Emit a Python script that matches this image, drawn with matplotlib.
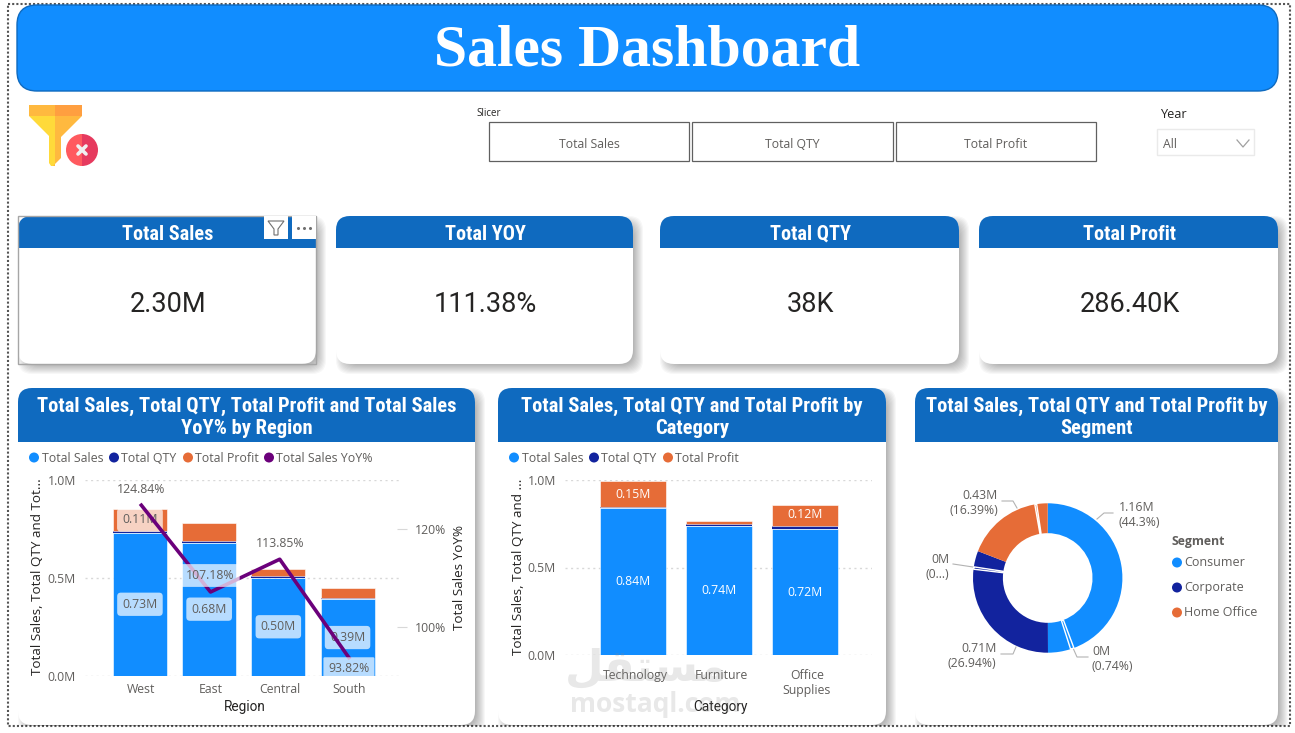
import matplotlib
matplotlib.use('Agg')
import matplotlib.pyplot as plt
from matplotlib.patches import FancyBboxPatch, Rectangle, Circle, Polygon, Wedge

W, H = 1295, 733

SALES_BLUE = '#118DFF'
QTY_NAVY = '#12239E'
PROFIT_ORANGE = '#E66C37'
YOY_PURPLE = '#6B007B'
HEADER_BLUE = '#0F6ABF'
TEXT_GREY = '#605E5C'
TEXT_DARK = '#252423'

BODY_FONT = 'Open Sans'
HEAD_FONT = ['Roboto Condensed', 'Roboto']
NUM_FONT = 'Roboto'

# KPI cards
kpi_titles = ['Total Sales', 'Total YOY', 'Total QTY', 'Total Profit']
kpi_values = ['2.30M', '111.38%', '38K', '286.40K']

# slicer
slicer_options = ['Total Sales', 'Total QTY', 'Total Profit']

# by region
regions = ['West', 'East', 'Central', 'South']
region_sales = [0.73, 0.68, 0.50, 0.39]
region_qty = [0.011, 0.009, 0.007, 0.006]
region_profit = [0.11, 0.09, 0.04, 0.05]
region_yoy = [124.84, 107.18, 113.85, 93.82]

# by category
categories = ['Technology', 'Furniture', 'Office\nSupplies']
category_sales = [0.84, 0.74, 0.72]
category_qty = [0.003, 0.007, 0.02]
category_profit = [0.15, 0.02, 0.12]

# by segment, percent of the ring going clockwise from the top
segment_shares = [44.3, 0.74, 4.9, 26.94, 0.5, 3.47, 16.39, 0.4, 2.36]
segment_colors = [SALES_BLUE, SALES_BLUE, SALES_BLUE,
                  QTY_NAVY, QTY_NAVY, QTY_NAVY,
                  PROFIT_ORANGE, PROFIT_ORANGE, PROFIT_ORANGE]
segment_names = ['Consumer', 'Corporate', 'Home Office']


fig = plt.figure(figsize=(W / 100, H / 100), dpi=100)
fig.patch.set_facecolor('white')

# page layer in pixel units, y going down
page = fig.add_axes([0, 0, 1, 1])
page.set_xlim(0, W)
page.set_ylim(H, 0)
page.axis('off')

frame_clip = Rectangle((8, 4), 1282, 722, transform=page.transData)


def px_axes(x0, y0, x1, y1):
    ax = fig.add_axes([x0 / W, 1 - y1 / H, (x1 - x0) / W, (y1 - y0) / H])
    ax.patch.set_alpha(0)
    return ax


def rounded(x0, y0, x1, y1, r, **kw):
    return FancyBboxPatch((x0, y0), x1 - x0, y1 - y0,
                          boxstyle='round,pad=0,rounding_size=%s' % r, **kw)


def draw_card(x0, y0, x1, y1, head_bottom, r=14):
    # soft shadow, bottom right
    for k in range(10):
        s = 5 - k
        shade = rounded(x0 + 5 - s, y0 + 5 - s, x1 + 5 + s, y1 + 5 + s, r,
                        fc='black', ec='none', alpha=0.03, zorder=1)
        page.add_patch(shade)
        shade.set_clip_path(frame_clip)
    page.add_patch(rounded(x0, y0, x1, y1, r, fc='white', ec='none', zorder=2))
    head = rounded(x0, y0, x1, y1, r, fc=HEADER_BLUE, ec='none', zorder=3)
    page.add_patch(head)
    head.set_clip_path(Rectangle((x0, y0), x1 - x0, head_bottom - y0, transform=page.transData))


def legend_row(items, y, font=8.9):
    for cx, tx, name, color in items:
        page.add_patch(Circle((cx, y), 5, fc=color, ec='none', zorder=5))
        page.text(tx, y + 0.5, name, color=TEXT_GREY, fontsize=font, family=BODY_FONT,
                  ha='left', va='center', zorder=5)


def style_axis(ax, yticks, xpad):
    for s in ax.spines.values():
        s.set_visible(False)
    ax.set_axisbelow(True)
    ax.set_yticks(yticks)
    ax.set_yticklabels(['%.1fM' % v for v in yticks])
    ax.tick_params(axis='y', length=0, pad=6.5, labelsize=8.8, labelcolor=TEXT_GREY)
    ax.tick_params(axis='x', length=0, pad=xpad, labelsize=8.8, labelcolor=TEXT_GREY)
    ax.grid(axis='y', color='#D8D8D8', linestyle=(0, (1.5, 2.5)), linewidth=1)
    for lab in ax.get_xticklabels() + ax.get_yticklabels():
        lab.set_family(BODY_FONT)


def stacked_bars(ax, xs, sales, qty, profit, width):
    edge = dict(edgecolor='#FFFFFF', linewidth=0.4)
    bottoms2 = [a + b for a, b in zip(sales, qty)]
    ax.bar(xs, sales, width, color=SALES_BLUE, **edge)
    ax.bar(xs, qty, width, bottom=sales, color=QTY_NAVY, linewidth=0)
    ax.bar(xs, profit, width, bottom=bottoms2, color=PROFIT_ORANGE, **edge)


# outer dotted frame
page.add_patch(Rectangle((8, 4), 1282, 722, fc='none', ec='#555555',
                         linestyle=(0, (1, 1)), linewidth=1.5, zorder=1))

# title banner
page.add_patch(rounded(17, 5, 1278, 91, 20, fc=SALES_BLUE, ec=HEADER_BLUE, linewidth=1, zorder=2))
page.text(647.5, 51, 'Sales Dashboard', color='white', fontsize=43, family='Liberation Serif',
          weight='bold', ha='center', va='center', zorder=3)

# clear-filter icon
page.add_patch(Polygon([(29, 116), (55, 116), (55, 166), (51, 166), (49, 163), (49, 136)],
                       fc='#FFDA3A', ec='none', zorder=3))
page.add_patch(Polygon([(55, 116), (82, 116), (61, 137), (61, 158), (53, 166), (55, 166)],
                       fc='#FFB93F', ec='none', zorder=3))
page.add_patch(Rectangle((29, 105), 26, 11, fc='#FFB93F', ec='none', zorder=3))
page.add_patch(Rectangle((55, 105), 27, 11, fc='#FF9F40', ec='none', zorder=3))
page.add_patch(Wedge((82, 150), 16, 90, 270, fc='#FF5A5F', ec='none', zorder=4))
page.add_patch(Wedge((82, 150), 16, 270, 90, fc='#E63A5E', ec='none', zorder=4))
page.plot([78, 86], [146, 154], color='#F0F0F0', lw=2.6, zorder=5, solid_capstyle='round')
page.plot([78, 86], [154, 146], color='#F0F0F0', lw=2.6, zorder=5, solid_capstyle='round')

# slicer
page.text(476, 113, 'Slicer', color=TEXT_DARK, fontsize=7, family=BODY_FONT,
          ha='left', va='center', zorder=3)
slicer_boxes = [(489, 689), (692, 893), (896, 1096)]
for (x0, x1), name in zip(slicer_boxes, slicer_options):
    page.add_patch(Rectangle((x0, 122), x1 - x0, 39, fc='white', ec='#606060', linewidth=0.9, zorder=3))
    page.text((x0 + x1) / 2, 144, name, color=TEXT_GREY, fontsize=8.8, family=BODY_FONT,
              ha='center', va='center', zorder=4)

# year dropdown
page.text(1160, 115, 'Year', color=TEXT_DARK, fontsize=9.2, family=BODY_FONT,
          ha='left', va='center', zorder=3)
page.add_patch(Rectangle((1157, 129), 97, 26, fc='white', ec='#EAEAEA', linewidth=1, zorder=3))
page.text(1163, 145, 'All', color=TEXT_GREY, fontsize=8.8, family=BODY_FONT,
          ha='left', va='center', zorder=4)
page.plot([1237, 1243, 1249], [140, 147, 140], color='#A0A0A0', lw=0.9, zorder=4)

# KPI cards
kpi_boxes = [(18, 316), (336, 633), (660, 959), (979, 1278)]
for (x0, x1), title, value in zip(kpi_boxes, kpi_titles, kpi_values):
    draw_card(x0, 216, x1, 364, 248)
    page.text((x0 + x1) / 2 + 1, 234, title, color='white', fontsize=14.6, family=HEAD_FONT,
              weight='bold', ha='center', va='center', zorder=4)
    page.text((x0 + x1) / 2 + 1, 304, value, color=TEXT_DARK, fontsize=19.5, family=NUM_FONT,
              ha='center', va='center', zorder=4)

# hover state of the first card
page.add_patch(Rectangle((18, 215.5), 298, 148.5, fc='none', ec='#A6A6A6', linewidth=1, zorder=6))
page.add_patch(Rectangle((264, 216), 24, 23, fc='white', ec='none', zorder=6))
page.add_patch(Rectangle((292, 216), 24, 23, fc='white', ec='none', zorder=6))
page.add_patch(Polygon([(268, 221), (284, 221), (278, 229), (278, 235), (274, 235), (274, 229)],
                       fc='white', ec='#707070', linewidth=0.8, zorder=7))
page.plot([298, 304, 310], [228, 228, 228], linestyle='none', marker='o', ms=1.2,
          color='#707070', zorder=7)

# chart cards
chart_boxes = [(18, 475), (498, 886), (915, 1278)]
chart_titles = ['Total Sales, Total QTY, Total Profit and Total Sales\nYoY% by Region',
                'Total Sales, Total QTY and Total Profit by\nCategory',
                'Total Sales, Total QTY and Total Profit by\nSegment']
for (x0, x1), title in zip(chart_boxes, chart_titles):
    draw_card(x0, 388, x1, 725, 442)
    page.text((x0 + x1) / 2, 417, title, color='white', fontsize=14.8, family=HEAD_FONT,
              weight='bold', ha='center', va='center', linespacing=1.2, zorder=4)

legend_row([(34, 41.5, 'Total Sales', SALES_BLUE),
            (114, 121, 'Total QTY', QTY_NAVY),
            (188, 195, 'Total Profit', PROFIT_ORANGE),
            (269, 276.5, 'Total Sales YoY%', YOY_PURPLE)], 457.5)
legend_row([(514, 521.5, 'Total Sales', SALES_BLUE),
            (594, 601, 'Total QTY', QTY_NAVY),
            (668, 675, 'Total Profit', PROFIT_ORANGE)], 457.5)

# region chart
ax1 = px_axes(85, 480, 402, 675.7)
x1 = list(range(len(regions)))
bar1 = [i - 0.02 for i in x1]
stacked_bars(ax1, bar1, region_sales, region_qty, region_profit, 0.78)
ax1.set_xlim(-0.814, 3.767)
ax1.set_ylim(0, 1.0)
ax1.set_xticks(x1)
ax1.set_xticklabels(regions)
style_axis(ax1, [0.0, 0.5, 1.0], 5.5)
ax1.set_ylabel('Total Sales, Total QTY and Tot...', fontsize=9.7, color=TEXT_DARK, family=BODY_FONT, va='center')
ax1.yaxis.set_label_coords(38, 576.5, transform=page.transData)
ax1.set_xlabel('Region', fontsize=9.8, color=TEXT_DARK, family=NUM_FONT, va='center')
ax1.xaxis.set_label_coords(245, 707.5, transform=page.transData)

ax1b = ax1.twinx()
ax1b.patch.set_alpha(0)
ax1b.plot(x1, region_yoy, color=YOY_PURPLE, linewidth=2.6, zorder=3)
ax1b.set_ylim(90.15, 129.97)
ax1b.set_yticks([100, 120])
ax1b.set_yticklabels(['100%', '120%'])
ax1b.tick_params(axis='y', direction='inout', length=7, width=0.8, color='#D8D8D8', pad=6,
                 labelsize=8.8, labelcolor=TEXT_GREY)
for lab in ax1b.get_yticklabels():
    lab.set_family(BODY_FONT)
for s in ax1b.spines.values():
    s.set_visible(False)
ax1b.set_ylabel('Total Sales YoY%', fontsize=9.7, color=TEXT_DARK, family=BODY_FONT, va='center')
ax1b.yaxis.set_label_coords(459.5, 577.5, transform=page.transData)

# value labels over the bars, pale box on top of the line
label_box = dict(boxstyle='round,pad=0.42,rounding_size=0.3', fc='white', ec='none', alpha=0.7)
stack_base = [a + b for a, b in zip(region_sales, region_qty)]
for i in x1:
    ax1.text(bar1[i], region_sales[i] / 2, '%.2fM' % region_sales[i], color=TEXT_GREY, fontsize=8.8,
             family=BODY_FONT, ha='center', va='center', bbox=label_box, zorder=6)
ax1.text(bar1[0], stack_base[0] + region_profit[0] / 2, '%.2fM' % region_profit[0], color=TEXT_GREY,
         fontsize=8.8, family=BODY_FONT, ha='center', va='center', bbox=label_box, zorder=6)

yoy_offsets = [15.5, 16.5, 16, -11]
yoy_boxed = [False, True, False, True]
for i, v in enumerate(region_yoy):
    box = None
    if yoy_boxed[i]:
        box = dict(boxstyle='round,pad=0.4,rounding_size=0.1', fc='white', ec='none', alpha=0.7)
    ax1b.annotate('%.2f%%' % v, (i, v), xytext=(0, yoy_offsets[i] * 0.72), textcoords='offset points',
                  color=TEXT_GREY, fontsize=8.8, family=BODY_FONT, ha='center', va='center',
                  bbox=box, zorder=6)

# category chart
ax2 = px_axes(565, 480, 872, 655)
x2 = list(range(len(categories)))
bar2 = [i - 0.023 for i in x2]
stacked_bars(ax2, bar2, category_sales, category_qty, category_profit, 0.76)
ax2.set_xlim(-0.814, 2.756)
ax2.set_ylim(0, 1.0)
ax2.set_xticks(x2)
ax2.set_xticklabels(categories, linespacing=1.25)
style_axis(ax2, [0.0, 0.5, 1.0], 10)
ax2.set_ylabel('Total Sales, Total QTY and ...', fontsize=9.7, color=TEXT_DARK, family=BODY_FONT, va='center')
ax2.yaxis.set_label_coords(518, 567, transform=page.transData)
ax2.set_xlabel('Category', fontsize=9.8, color=TEXT_DARK, family=NUM_FONT, va='center')
ax2.xaxis.set_label_coords(720.5, 707.5, transform=page.transData)

for i in x2:
    ax2.text(bar2[i], category_sales[i] / 2, '%.2fM' % category_sales[i], color='white', fontsize=8.8,
             family=BODY_FONT, ha='center', va='center', zorder=6)
    if category_profit[i] >= 0.1:
        base = category_sales[i] + category_qty[i]
        ax2.text(bar2[i], base + category_profit[i] / 2, '%.2fM' % category_profit[i], color='white',
                 fontsize=8.8, family=BODY_FONT, ha='center', va='center', zorder=6)

# segment donut
ax3 = px_axes(973, 503.3, 1122.4, 652.7)
wedges, _ = ax3.pie(segment_shares, colors=segment_colors, startangle=90, counterclock=False,
                    radius=1.0, wedgeprops=dict(width=0.4, linewidth=0))
for w, share in zip(wedges, segment_shares):
    if share < 1:
        w.set_edgecolor('white')
        w.set_linewidth(1)
        w.set_zorder(4)
ax3.set_xlim(-1, 1)
ax3.set_ylim(-1, 1)

donut_labels = [
    ('1.16M\n(44.3%)', 1118.5, 514, 'left', [(1097, 519), (1104, 513), (1113, 513)]),
    ('0M\n(0.74%)', 1092, 658, 'left', [(1073, 648), (1077, 657), (1088, 657)]),
    ('0.71M\n(26.94%)', 996.5, 655, 'right', [(1016, 647), (1013, 654), (1001, 654)]),
    ('0M\n(0...)', 949, 566, 'right', [(973, 567), (953, 564)]),
    ('0.43M\n(16.39%)', 998, 502, 'right', [(1017, 508), (1013, 501), (1002, 501)]),
]
for text, tx, ty, ha, path in donut_labels:
    page.text(tx, ty + 1, text, color=TEXT_GREY, fontsize=8.8, family=BODY_FONT, ha=ha, va='center',
              linespacing=1.15, zorder=5)
    page.plot([p[0] for p in path], [p[1] for p in path], color='#B3B3B3', lw=0.8, zorder=5)

page.text(1171, 542, 'Segment', color=TEXT_GREY, fontsize=8.8, family=BODY_FONT,
          weight='bold', ha='left', va='center', zorder=5)
legend_row([(1177, 1184.5, segment_names[0], SALES_BLUE)], 562.5, font=9)
legend_row([(1177, 1184.5, segment_names[1], QTY_NAVY)], 587.5, font=9)
legend_row([(1177, 1184.5, segment_names[2], PROFIT_ORANGE)], 612.5, font=9)

# site mark across the middle chart
fig.text(646 / W, 1 - 668 / H, '\uFEDE\uFED8\uFE98\uFEB4\uFEE3', color='#8C8C8C', alpha=0.2,
         fontsize=32, family='DejaVu Sans', weight='bold', ha='center', va='center', zorder=5)
fig.text(570 / W, 1 - 704 / H, 'mostaql.com', color='#8C8C8C', alpha=0.2, fontsize=19,
         family='Open Sans', weight='bold', ha='left', va='center', zorder=5)

fig.savefig('out.png', dpi=100)
